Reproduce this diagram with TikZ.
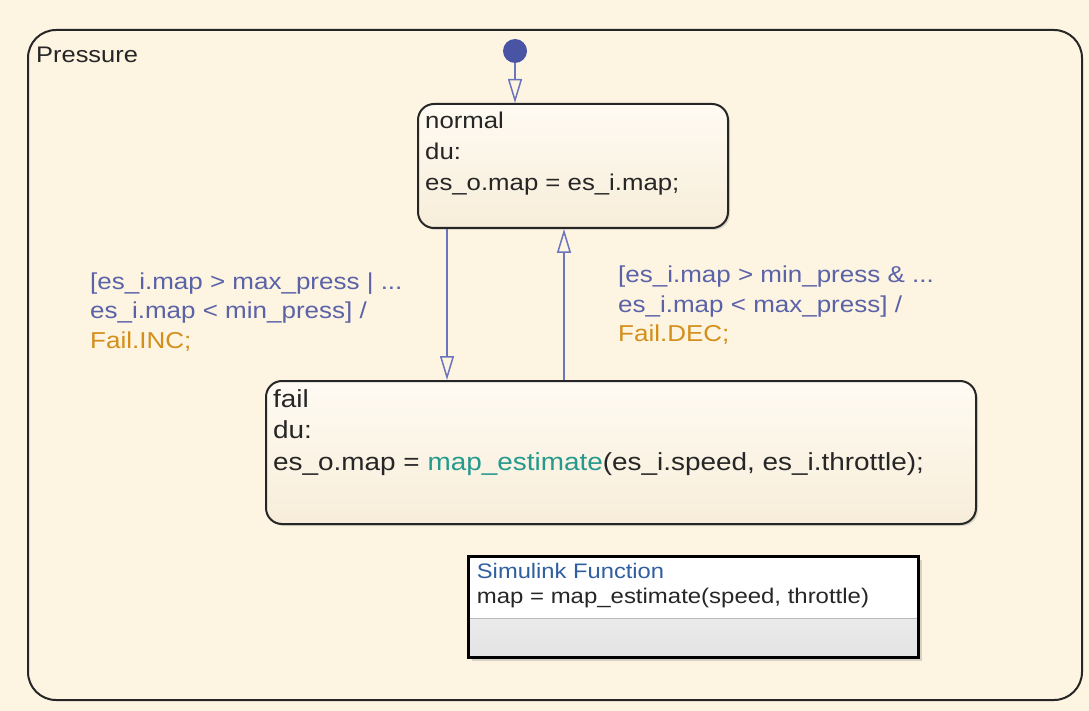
\documentclass[tikz,border=0pt]{standalone}
\usepackage{fontspec}
\setmainfont[FakeStretch=1.13]{Liberation Sans}
\usetikzlibrary{arrows.meta,positioning,shadows}
\definecolor{chartbg}{HTML}{FEF4E2}
\definecolor{statetop}{HTML}{FFFBF3}
\definecolor{statebot}{HTML}{F7EDD9}
\definecolor{guardblue}{HTML}{5A62A8}
\definecolor{actionorange}{HTML}{D48F1A}
\definecolor{fcnteal}{HTML}{24998C}
\definecolor{headerblue}{HTML}{2F5F9E}
\definecolor{transblue}{HTML}{6B75BE}
\definecolor{dotblue}{HTML}{4A54A4}

\begin{document}
\begin{tikzpicture}[x=1pt,y=-1pt,>={Triangle[open,length=24pt,width=14pt]},
  state/.style={draw=black!85,line width=2pt,rounded corners=16pt,top color=statetop,bottom color=statebot,inner sep=0pt,anchor=north west,drop shadow={shadow xshift=2pt,shadow yshift=-2pt,opacity=.25}},
  code/.style={anchor=base west,align=left,inner sep=0pt,text=black!85},
  trans/.style={draw=transblue,line width=1.5pt,->}]
\useasboundingbox (0,0) rectangle (1089,711);
\fill[chartbg] (0,0) rectangle (1089,711);
\node[draw=black!85,line width=2pt,rounded corners=28pt,minimum width=1054pt,minimum height=670pt,anchor=north west,inner sep=0pt] (pressure) at (27,29) {};
\node[code,font=\fontsize{22.5}{27}\selectfont] (ptitle) at (36,63) {Pressure};

\node[state,minimum width=310pt,minimum height=124pt] (normal) at (417,103) {};
\node[code,font=\fontsize{22.8}{31}\selectfont] (normaltext) at (425,190.5) {normal\\du:\\es\_o.map = es\_i.map;};

\node[state,minimum width=710pt,minimum height=143pt] (fail) at (265,380) {};
\node[code,font=\fontsize{24.7}{31.4}\selectfont] (failtext) at (273,470) {fail\\du:\\es\_o.map = \textcolor{fcnteal}{map\_estimate}(es\_i.speed, es\_i.throttle);};

\node[circle,fill=dotblue,minimum size=24pt,inner sep=0pt] (init) at (515,51) {};
\draw[trans] (init) -- ([xshift=98pt]normal.north west);
\draw[trans] ([xshift=30pt]normal.south west) -- ([xshift=182pt]fail.north west);
\draw[trans] ([xshift=299pt]fail.north west) -- ([xshift=147pt]normal.south west);

\node[code,text=guardblue,font=\fontsize{23}{29.5}\selectfont] (incguard) at (90,348.3) {[es\_i.map > max\_press | ...\\es\_i.map < min\_press] /\\\textcolor{actionorange}{Fail.INC;}};
\node[code,text=guardblue,font=\fontsize{23}{29.5}\selectfont] (decguard) at (618,341.7) {[es\_i.map > min\_press \& ...\\es\_i.map < max\_press] /\\\textcolor{actionorange}{Fail.DEC;}};

\node[draw=black,line width=3pt,fill=white,minimum width=450pt,minimum height=101pt,anchor=north west,inner sep=0pt,drop shadow={shadow xshift=3pt,shadow yshift=-3pt,opacity=.3},
  path picture={\shade[top color=gray!6,bottom color=gray!22] ([yshift=-62pt]path picture bounding box.north west) rectangle (path picture bounding box.south east);
    \draw[gray!55,line width=1pt] ([yshift=-62pt]path picture bounding box.north west) -- ([yshift=-62pt]path picture bounding box.north east);}] (slfcn) at (467,555) {};
\node[code,text=headerblue,font=\fontsize{21}{25}\selectfont] (fcnhead) at (476.7,578.3) {Simulink Function};
\node[code,font=\fontsize{21.2}{25}\selectfont] (fcnsig) at (476.7,603.3) {map = map\_estimate(speed, throttle)};
\end{tikzpicture}
\end{document}
